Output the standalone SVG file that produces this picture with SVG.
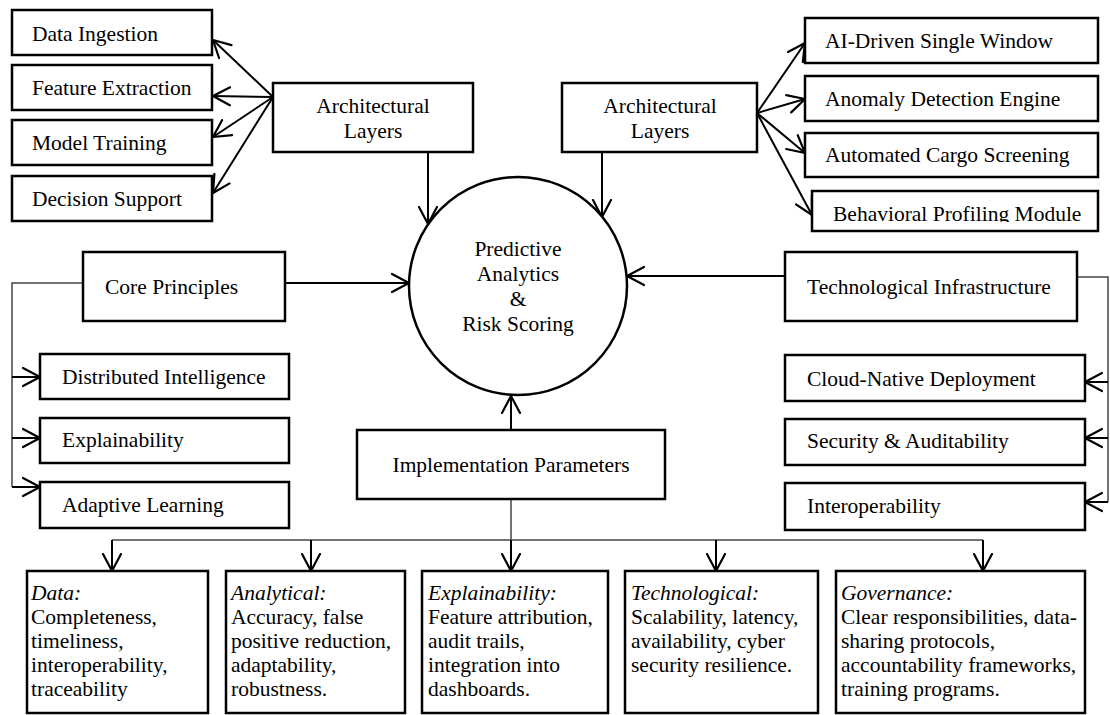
<svg xmlns="http://www.w3.org/2000/svg" width="1110" height="715" viewBox="0 0 1110 715">
<defs>
<style>
.box{fill:#fff;stroke:#000;stroke-width:2.5}
.t{font-family:"Liberation Serif","Times New Roman",serif;font-size:21.5px;fill:#000}
.c{text-anchor:middle}
.i{font-style:italic}
.arr{stroke:#000;stroke-width:2;fill:none;marker-end:url(#ah)}
.thin{stroke:#444;stroke-width:1.5;fill:none}
</style>
<marker id="ah" viewBox="0 0 20 22" refX="18" refY="11" markerWidth="20" markerHeight="22" markerUnits="userSpaceOnUse" orient="auto">
<path d="M1,2 L18,11 L1,20" fill="none" stroke="#000" stroke-width="2.2" stroke-linejoin="round" stroke-linecap="round"/>
</marker>
<clipPath id="clipB"><rect x="812" y="191" width="290" height="31"/></clipPath>
</defs>

<g id="connectors">
<line class="arr" x1="273" y1="97" x2="213" y2="40"/>
<line class="arr" x1="273" y1="97" x2="213" y2="96"/>
<line class="arr" x1="273" y1="97" x2="213" y2="137"/>
<line class="arr" x1="273" y1="97" x2="213" y2="193"/>
<line class="arr" x1="428" y1="152" x2="428" y2="224"/>
<line class="arr" x1="757" y1="113" x2="805" y2="43"/>
<line class="arr" x1="757" y1="113" x2="805" y2="99"/>
<line class="arr" x1="757" y1="113" x2="805" y2="153"/>
<line class="arr" x1="757" y1="113" x2="812" y2="215"/>
<line class="arr" x1="602" y1="152" x2="602" y2="217"/>
<line class="arr" x1="285" y1="283" x2="409" y2="283"/>
<line class="arr" x1="785" y1="276" x2="627" y2="276"/>
<line class="arr" x1="511" y1="430" x2="511" y2="396"/>
<polyline class="thin" points="83,283 12,283 12,487"/>
<line class="arr" x1="12" y1="377" x2="40" y2="377"/>
<line class="arr" x1="12" y1="438" x2="40" y2="438"/>
<line class="arr" x1="12" y1="487" x2="40" y2="487"/>
<polyline class="thin" points="1077,277 1108,277 1108,502"/>
<line class="arr" x1="1108" y1="382" x2="1085" y2="382"/>
<line class="arr" x1="1108" y1="438" x2="1085" y2="438"/>
<line class="arr" x1="1108" y1="502" x2="1085" y2="502"/>
<line class="thin" x1="511" y1="499" x2="511" y2="540"/>
<line class="thin" x1="112" y1="540" x2="983" y2="540"/>
<line class="arr" x1="112" y1="540" x2="112" y2="571"/>
<line class="arr" x1="311" y1="540" x2="311" y2="571"/>
<line class="arr" x1="511" y1="540" x2="511" y2="571"/>
<line class="arr" x1="716" y1="540" x2="716" y2="571"/>
<line class="arr" x1="983" y1="540" x2="983" y2="571"/>
</g>

<g id="data-ingestion"><rect class="box" x="12" y="10" width="200" height="45"/><text class="t" x="32" y="41">Data Ingestion</text></g>
<g id="feature-extraction"><rect class="box" x="12" y="65" width="200" height="45"/><text class="t" x="32" y="95">Feature Extraction</text></g>
<g id="model-training"><rect class="box" x="12" y="120" width="200" height="45"/><text class="t" x="32" y="150">Model Training</text></g>
<g id="decision-support"><rect class="box" x="12" y="176" width="200" height="45"/><text class="t" x="32" y="206">Decision Support</text></g>

<g id="arch-layers-left"><rect class="box" x="273" y="83" width="200" height="69"/><text class="t c" x="373" y="113">Architectural</text><text class="t c" x="373" y="138">Layers</text></g>
<g id="arch-layers-right"><rect class="box" x="562" y="83" width="195" height="69"/><text class="t c" x="660" y="113">Architectural</text><text class="t c" x="660" y="138">Layers</text></g>

<g id="ai-single-window"><rect class="box" x="805" y="18" width="293" height="45"/><text class="t" x="825" y="48">AI-Driven Single Window</text></g>
<g id="anomaly-detection"><rect class="box" x="805" y="76" width="293" height="45"/><text class="t" x="825" y="106">Anomaly Detection Engine</text></g>
<g id="cargo-screening"><rect class="box" x="805" y="133" width="293" height="44"/><text class="t" x="825" y="162">Automated Cargo Screening</text></g>
<g id="behavioral-profiling"><rect class="box" x="812" y="191" width="286" height="40"/><text class="t" x="833" y="221" clip-path="url(#clipB)">Behavioral Profiling Module</text></g>

<g id="center"><circle cx="518" cy="286" r="109" fill="#fff" stroke="#000" stroke-width="2.5"/>
<text class="t c" x="518" y="256">Predictive</text><text class="t c" x="518" y="281">Analytics</text><text class="t c" x="518" y="306">&amp;</text><text class="t c" x="518" y="331">Risk Scoring</text></g>

<g id="core-principles"><rect class="box" x="83" y="252" width="202" height="69"/><text class="t" x="105" y="294">Core Principles</text></g>
<g id="distributed-intelligence"><rect class="box" x="40" y="354" width="249" height="45"/><text class="t" x="62" y="384">Distributed Intelligence</text></g>
<g id="explainability"><rect class="box" x="40" y="418" width="249" height="45"/><text class="t" x="62" y="447">Explainability</text></g>
<g id="adaptive-learning"><rect class="box" x="40" y="482" width="249" height="46"/><text class="t" x="62" y="512">Adaptive Learning</text></g>

<g id="tech-infrastructure"><rect class="box" x="785" y="252" width="292" height="69"/><text class="t" x="807" y="294">Technological Infrastructure</text></g>
<g id="cloud-native"><rect class="box" x="785" y="355" width="300" height="46"/><text class="t" x="807" y="386">Cloud-Native Deployment</text></g>
<g id="security-auditability"><rect class="box" x="785" y="419" width="300" height="46"/><text class="t" x="807" y="448">Security &amp; Auditability</text></g>
<g id="interoperability"><rect class="box" x="785" y="483" width="300" height="47"/><text class="t" x="807" y="513">Interoperability</text></g>

<g id="implementation-parameters"><rect class="box" x="357" y="430" width="308" height="69"/><text class="t c" x="511" y="472">Implementation Parameters</text></g>

<g id="param-data"><rect class="box" x="27" y="571" width="181" height="142"/>
<text class="t i" x="31" y="600">Data:</text><text class="t" x="31" y="624">Completeness,</text><text class="t" x="31" y="648">timeliness,</text><text class="t" x="31" y="672">interoperability,</text><text class="t" x="31" y="696">traceability</text></g>
<g id="param-analytical"><rect class="box" x="226" y="571" width="179" height="142"/>
<text class="t i" x="231" y="600">Analytical:</text><text class="t" x="231" y="624">Accuracy, false</text><text class="t" x="231" y="648">positive reduction,</text><text class="t" x="231" y="672">adaptability,</text><text class="t" x="231" y="696">robustness.</text></g>
<g id="param-explainability"><rect class="box" x="422" y="571" width="186" height="142"/>
<text class="t i" x="428" y="600">Explainability:</text><text class="t" x="428" y="624">Feature attribution,</text><text class="t" x="428" y="648">audit trails,</text><text class="t" x="428" y="672">integration into</text><text class="t" x="428" y="696">dashboards.</text></g>
<g id="param-technological"><rect class="box" x="625" y="571" width="193" height="142"/>
<text class="t i" x="631" y="600">Technological:</text><text class="t" x="631" y="624">Scalability, latency,</text><text class="t" x="631" y="648">availability, cyber</text><text class="t" x="631" y="672">security resilience.</text></g>
<g id="param-governance"><rect class="box" x="836" y="571" width="249" height="142"/>
<text class="t i" x="841" y="600">Governance:</text><text class="t" x="841" y="624">Clear responsibilities, data-</text><text class="t" x="841" y="648">sharing protocols,</text><text class="t" x="841" y="672">accountability frameworks,</text><text class="t" x="841" y="696">training programs.</text></g>
</svg>
